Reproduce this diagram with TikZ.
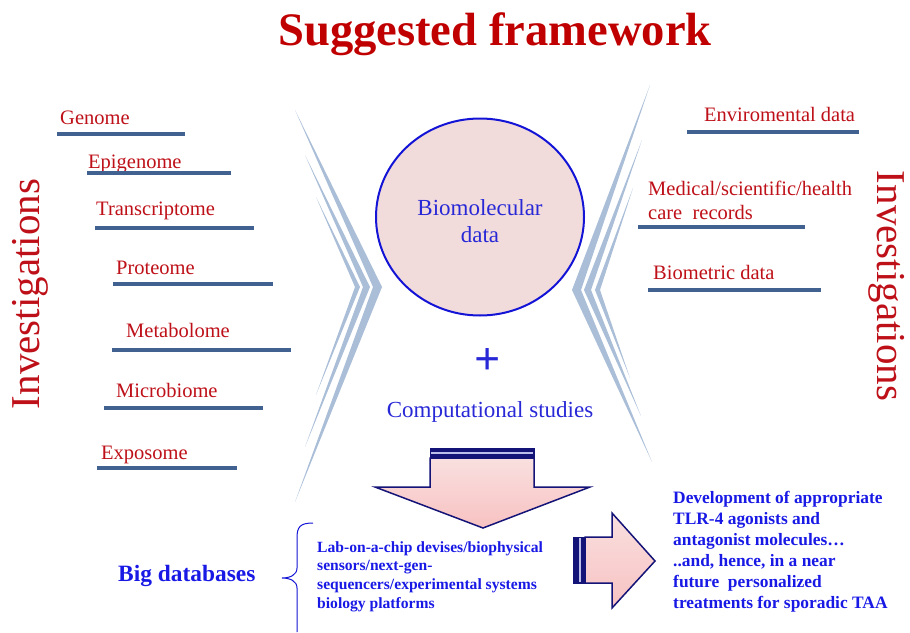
\documentclass[tikz,border=0pt]{standalone}
\usepackage{fontspec}
\setmainfont{Liberation Serif}
\usetikzlibrary{shapes.geometric}
\definecolor{titlered}{RGB}{192,0,0}
\definecolor{labred}{RGB}{190,16,24}
\definecolor{barblue}{RGB}{65,98,145}
\definecolor{chevblue}{RGB}{170,190,215}
\definecolor{txtblue}{RGB}{40,40,215}
\definecolor{boldblue}{RGB}{25,25,230}
\definecolor{circfill}{RGB}{242,220,219}
\definecolor{circline}{RGB}{20,20,215}
\definecolor{navy}{RGB}{20,20,120}
\definecolor{arrowpink}{RGB}{245,198,198}
\definecolor{stripelight}{RGB}{190,190,235}
\begin{document}
\begin{tikzpicture}[
        x=1pt, y=-1pt,
        lbl/.style={anchor=base west,inner sep=0pt,text=labred,font=\fontsize{20.5}{24}\selectfont},
        invest/.style={inner sep=0pt,text=labred,font=\fontsize{41}{45}\selectfont},
        bar/.style={draw=barblue,line width=3.5pt},
        chev/.style={fill=chevblue,draw=none},
        blu/.style={text=txtblue,font=\fontsize{23}{27}\selectfont},
        bblu/.style={text=boldblue,inner sep=0pt,align=left,font=\bfseries\fontsize{17.4}{21}\selectfont},
        sblu/.style={text=boldblue,inner sep=0pt,align=left,font=\bfseries\fontsize{15.6}{18.7}\selectfont},
        bigarrow/.style={top color=arrowpink!55!white,bottom color=arrowpink!90!red!80!white,
            draw=navy,line width=1.5pt,line join=miter},
        stripe/.style={fill=navy,draw=navy,line width=0.8pt},
        ]
    \useasboundingbox (0,0) rectangle (910,632);
    % title
    \node (title) [anchor=base,inner sep=0pt,text=titlered,
        font=\bfseries\fontsize{46.6}{50}\selectfont] at (495,45) {Suggested framework};
    % left side
    \node (invl) [invest,rotate=90] at (30,294) {Investigations};
    \node (gen) [lbl] at (60,124) {Genome};
    \node (epi) [lbl] at (88,168) {Epigenome};
    \node (tra) [lbl] at (96,215) {Transcriptome};
    \node (pro) [lbl] at (116,274) {Proteome};
    \node (met) [lbl] at (126,337) {Metabolome};
    \node (mic) [lbl] at (116,397) {Microbiome};
    \node (exp) [lbl] at (101,459) {Exposome};
    \draw[bar] (57,134) -- (185,134);
    \draw[bar] (87,173) -- (231,173);
    \draw[bar] (95,228) -- (254,228);
    \draw[bar] (113,284) -- (273,284);
    \draw[bar] (112,350) -- (291,350);
    \draw[bar] (104,408) -- (263,408);
    \draw[bar] (97,468) -- (237,468);
    % right side
    \node (invr) [invest,rotate=-90] at (887,286) {Investigations};
    \node (env) [lbl] at (704,121) {Enviromental data};
    \node (med) [lbl,align=left,anchor=north west] at (648,181)
        {Medical/scientific/health\\care\ \ records};
    \node (bio) [lbl] at (653,279) {Biometric data};
    \draw[bar] (687,132) -- (859,132);
    \draw[bar] (638,227) -- (805,227);
    \draw[bar] (648,290) -- (821,290);
    % chevrons
    \fill[chev] (295,110) -- (382,287) -- (295,502) -- (373,287) -- cycle;
    \fill[chev] (305,155) -- (370,287) -- (305,447) -- (363,287) -- cycle;
    \fill[chev] (316,197) -- (360,287) -- (316,395) -- (355,287) -- cycle;
    \fill[chev] (650,85) -- (572,290) -- (652,462) -- (581,290) -- cycle;
    \fill[chev] (642,140) -- (584,290) -- (641,416) -- (591,290) -- cycle;
    \fill[chev] (633,188) -- (595,290) -- (630,378) -- (600,290) -- cycle;
    % centre
    \node (circ) [draw=circline,fill=circfill,line width=2pt,ellipse,
        minimum width=208pt,minimum height=197pt] at (480,217) {};
    \node (biomol) [blu,align=center] at (480,221) {Biomolecular\\data};
    \node (plus) [text=txtblue,font=\bfseries\fontsize{46}{50}\selectfont] at (488,362) {+};
    \node (comp) [blu] at (490,412) {Computational studies};
    % down arrow
    \draw[bigarrow] (430,458) -- (534,458) -- (534,487) -- (590,487) -- (483,528)
        -- (375,487) -- (430,487) -- cycle;
    \draw[stripe] (430,448) rectangle (534,458);
    \draw[stripelight,line width=1.5pt] (431,453) -- (533,453);
    % right arrow
    \draw[bigarrow] (585,537) -- (612,537) -- (612,513) -- (655,561) -- (612,608)
        -- (612,583) -- (585,583) -- cycle;
    \draw[stripe] (573,537) rectangle (585,583);
    \draw[stripelight,line width=1.5pt] (580,538) -- (580,582);
    % bottom texts
    \node (bigdb) [anchor=base west,inner sep=0pt,text=boldblue,
        font=\bfseries\fontsize{23.4}{27}\selectfont] at (118,581) {Big databases};
    \draw[circline,line width=1pt] (313,523) .. controls (300,523) and (297,527) .. (297,538)
        -- (297,568) .. controls (297,575) and (290,578) .. (282,578)
        .. controls (290,578) and (297,581) .. (297,588) -- (297,632);
    \node (lab) [sblu,anchor=north west] at (317,541)
        {Lab-on-a-chip devises/biophysical\\sensors/next-gen-\\sequencers/experimental systems\\biology platforms};
    \node (dev) [bblu,anchor=north west] at (673,491)
        {Development of appropriate\\TLR-4 agonists and\\antagonist molecules\dots\\..and, hence, in a near\\future\ \ personalized\\treatments for sporadic TAA};
\end{tikzpicture}
\end{document}
